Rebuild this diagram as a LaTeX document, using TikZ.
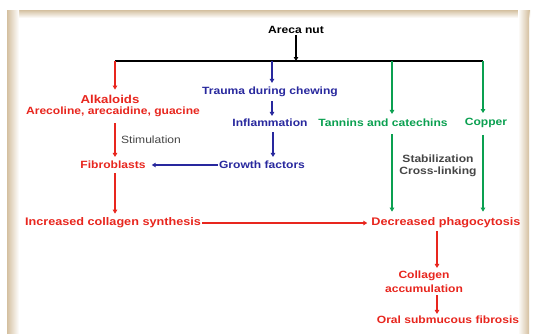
\documentclass[tikz,border=0pt]{standalone}
\usepackage{fontspec}
\setmainfont[FakeStretch=1.15]{Liberation Sans}
\usetikzlibrary{arrows.meta}
\usetikzlibrary{calc}
\definecolor{ofred}{RGB}{232,38,30}
\definecolor{ofblue}{RGB}{40,40,158}
\definecolor{ofgreen}{RGB}{10,160,80}
\definecolor{ofgrey}{RGB}{70,70,70}
\definecolor{offrame}{RGB}{212,192,160}

\begin{document}
\begin{tikzpicture}[x=1pt,y=-1pt,
  lbl/.style={inner sep=1pt,font=\bfseries\fontsize{10.5}{12}\selectfont,align=center},
  arr/.style={line width=1.4pt,-{Triangle[length=4pt,width=4.5pt]}}]
\useasboundingbox (0,0) rectangle (535,333);
\fill[white] (0,0) rectangle (535,333);
% frame
\shade[top color=offrame,bottom color=white] (7,10) rectangle (530,18);
\shade[left color=offrame,right color=white] (7,10) rectangle (19,333);
\shade[left color=white,right color=offrame] (518,10) rectangle (529,333);
\fill[white] (19,18) rectangle (518,333);
% labels
\node[lbl] (areca) at (296,30) {Areca nut};
\node[lbl,text=ofred,font=\bfseries\fontsize{11.5}{14}\selectfont] (alk) at (110,99) {Alkaloids};
\node[lbl,text=ofred] (arec) at (113,112) {Arecoline, arecaidine, guacine};
\node[lbl,text=ofblue] (trauma) at (270,92) {Trauma during chewing};
\node[lbl,text=ofblue] (infl) at (270,123) {Inflammation};
\node[lbl,text=ofblue] (growth) at (262,165) {Growth factors};
\node[lbl,text=ofred] (fibro) at (113,165) {Fibroblasts};
\node[lbl,text=ofgrey,font=\fontsize{10.5}{12}\selectfont] (stim) at (151,140) {Stimulation};
\node[lbl,text=ofred,font=\bfseries\fontsize{11}{13}\selectfont] (incr) at (113,223) {Increased collagen synthesis};
\node[lbl,text=ofgreen] (tann) at (383,123) {Tannins and catechins};
\node[lbl,text=ofgreen] (copper) at (486,123) {Copper};
\node[lbl,text=ofgrey,font=\bfseries\fontsize{10.5}{12.5}\selectfont] (stab) at (438,166) {Stabilization\\Cross-linking};
\node[lbl,text=ofred,font=\bfseries\fontsize{11}{13}\selectfont] (phag) at (446,223) {Decreased phagocytosis};
\node[lbl,text=ofred,font=\bfseries\fontsize{10.5}{14}\selectfont] (coll) at (424,282) {Collagen\\accumulation};
\node[lbl,text=ofred] (oral) at (448,320) {Oral submucous fibrosis};
% branch bar
\coordinate (barL) at (115,61);
\coordinate (barM) at (272,61);
\coordinate (barT) at (392,61);
\coordinate (barR) at (483,61);
\coordinate (colx) at (437,0);
\draw[line width=1.4pt] (barL) -- (barR);
\draw[arr] (areca.south) -- (areca.south |- barL);
\draw[arr,ofred] (barL) -- ($(barL |- alk.north)+(0,-4)$);
\draw[arr,ofblue] (barM) -- ($(barM |- trauma.north)+(0,-3)$);
\draw[arr,ofgreen] (barT) -- ($(barT |- tann.north)+(0,-4)$);
\draw[arr,ofgreen] (barR) -- ($(barR |- copper.north)+(0,-4)$);
% left side
\draw[arr,ofblue] ($(barM |- trauma.south)+(0,3)$) -- ($(barM |- infl.north)+(0,-2)$);
\draw[arr,ofblue] ($(infl.south)+(3,4)$) -- ($(infl.south |- growth.north)+(3,-3)$);
\draw[arr,ofblue] (growth.west) -- ($(fibro.east)+(5,0)$);
\draw[arr,ofred] ($(barL |- arec.south)+(0,5)$) -- ($(barL |- fibro.north)+(0,-3)$);
\draw[arr,ofred] ($(barL |- fibro.south)+(0,3)$) -- ($(barL |- incr.north)+(0,-3)$);
\draw[arr,ofred] (incr.east) -- ($(phag.west)+(-3,0)$);
% right side
\draw[arr,ofgreen] ($(barT |- tann.south)+(0,6)$) -- ($(barT |- phag.north)+(0,-5)$);
\draw[arr,ofgreen] ($(barR |- copper.south)+(0,6)$) -- ($(barR |- phag.north)+(0,-5)$);
\draw[arr,ofred] ($(colx |- phag.south)+(0,2)$) -- ($(colx |- coll.north)+(0,-2)$);
\draw[arr,ofred] ($(colx |- coll.south)+(0,1)$) -- ($(colx |- oral.north)+(0,-1)$);
\end{tikzpicture}
\end{document}
